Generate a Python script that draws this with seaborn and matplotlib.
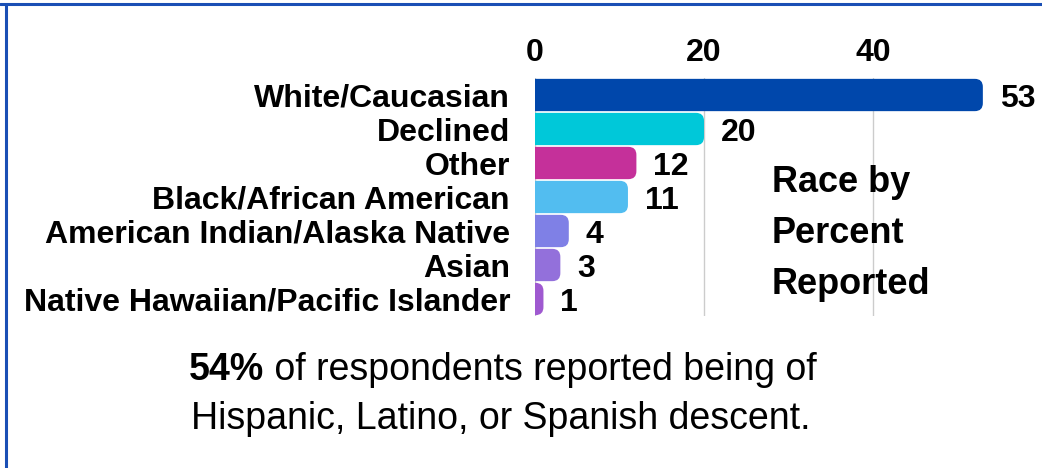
import matplotlib
matplotlib.use("Agg")
import matplotlib.pyplot as plt
from matplotlib.patches import FancyBboxPatch
from matplotlib.lines import Line2D
import seaborn as sns

# data
categories = ['White/Caucasian', 'Declined', 'Other', 'Black/African American',
              'American Indian/Alaska Native', 'Asian', 'Native Hawaiian/Pacific Islander']
percents = [53, 20, 12, 11, 4, 3, 1]
bar_colors = ['#0047AB', '#00C8D9', '#C5309A', '#52BDF0', '#7F80E6', '#9370DB', '#9F59D0']
x_ticks = [0, 20, 40]

sns.set_style('white')
plt.rcParams['font.family'] = ['Liberation Sans', 'DejaVu Sans']
plt.rcParams['text.color'] = 'black'
plt.rcParams['xtick.color'] = 'black'
plt.rcParams['ytick.color'] = 'black'

fig = plt.figure(figsize=(10.42, 4.68), dpi=100)
ax = fig.add_axes([535 / 1042, 1 - 316 / 468, 1 - 535 / 1042, 238 / 468])

sns.barplot(x=percents, y=categories, hue=categories, palette=bar_colors,
            legend=False, orient='h', width=0.95, ax=ax, saturation=1)

ax.set_xlim(0, 60)
ax.set_xticks(x_ticks)
ax.xaxis.tick_top()
ax.tick_params(axis='x', length=0, pad=7, labelsize=23)
ax.tick_params(axis='y', length=0, pad=18, labelsize=23)
for lab in ax.get_xticklabels() + ax.get_yticklabels():
    lab.set_fontweight('bold')
ax.set_xlabel('')
ax.set_ylabel('')
ax.grid(axis='x', color='#cccccc', lw=1)
ax.set_axisbelow(True)
sns.despine(ax=ax, left=True, bottom=True)

# rounded right ends + value labels
px_x = ax.get_window_extent().width / 60
px_y = ax.get_window_extent().height / len(categories)
rx = 8 / px_x
aspect = (8 / px_y) / rx
for p in list(ax.patches):
    x0, y0 = p.get_x(), p.get_y()
    w, h = p.get_width(), p.get_height()
    rb = FancyBboxPatch((x0 - rx * 1.5, y0), w + rx * 1.5, h,
                        boxstyle=f'round,pad=0,rounding_size={rx}',
                        mutation_aspect=aspect, facecolor=p.get_facecolor(),
                        edgecolor='none', zorder=p.get_zorder())
    ax.add_patch(rb)
    p.set_visible(False)
    ax.annotate(f'{w:g}', xy=(x0 + w, y0 + h / 2), xytext=(12, 0),
                textcoords='offset points', fontsize=23, fontweight='bold',
                ha='left', va='center_baseline', annotation_clip=False)

# side title
for i, line in enumerate(['Race by', 'Percent', 'Reported']):
    fig.text(772 / 1042, 1 - (192 + 51 * i) / 468, line, fontsize=26,
             fontweight='bold', ha='left', va='baseline')

# bottom note
t1 = fig.text(189 / 1042, 1 - 380 / 468, '54%', fontsize=27, fontweight='bold',
              ha='left', va='baseline')
ax.annotate(' of respondents reported being of', xy=(1, 0), xycoords=t1,
            fontsize=27, ha='left', va='bottom', annotation_clip=False)
fig.text(501 / 1042, 1 - 429 / 468, 'Hispanic, Latino, or Spanish descent.',
         fontsize=27, ha='center', va='baseline')

# frame lines
fig.add_artist(Line2D([0, 1], [1 - 4 / 468, 1 - 4 / 468], color='#1a4fb5', lw=2.2,
                      transform=fig.transFigure))
fig.add_artist(Line2D([6 / 1042, 6 / 1042], [0, 1 - 4 / 468], color='#1a4fb5', lw=2.2,
                      transform=fig.transFigure))

fig.savefig('out.png', dpi=100)
